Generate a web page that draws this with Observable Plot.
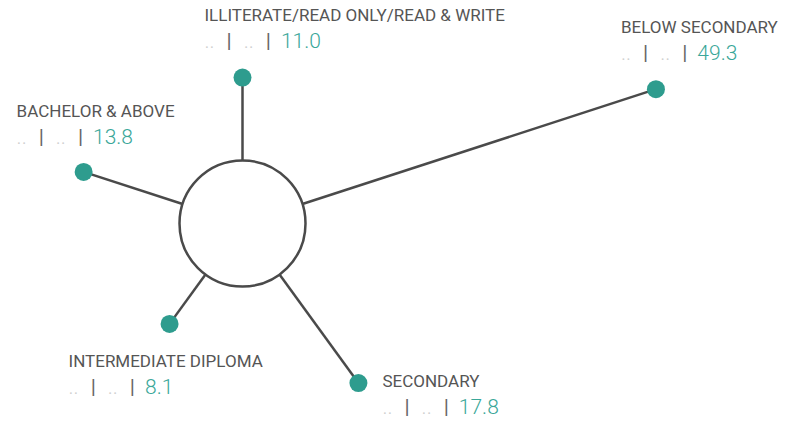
<!DOCTYPE html>
<html>
<head>
<meta charset="utf-8">
<script src="https://cdn.jsdelivr.net/npm/d3@7"></script>
<script src="https://cdn.jsdelivr.net/npm/@observablehq/plot@0.6"></script>
<style>
  html, body { margin: 0; padding: 0; background: #fff; }
  #chart { width: 798px; height: 421px; }
</style>
</head>
<body>
<div id="chart"></div>
<script>
// ---- Data ----
const categories = [
  "ILLITERATE/READ ONLY/READ & WRITE",
  "BELOW SECONDARY",
  "SECONDARY",
  "INTERMEDIATE DIPLOMA",
  "BACHELOR & ABOVE"
];
const values = [11.0, 49.3, 17.8, 8.1, 13.8];
const valueLabels = ["11.0", "49.3", "17.8", "8.1", "13.8"];
const placeholders = ["..", ".."];

// ---- Layout (pixels) ----
const W = 798, H = 421;
const cx = 242, cy = 223;     // hub centre
const pxPerUnit = 7.54;       // spoke length per value unit
const hubR = 63;              // hub radius (px)
const R0 = hubR / pxPerUnit;  // hub radius in value units
// label anchor offsets (px) from each dot: [dx, dy of first baseline]
const labelOffsets = [[-38, -57], [-35, -56], [24, 4], [-101, 43], [-67, -55]];
const lineGap = 27;

const teal = "#2e9c8e";
const tealText = "#3aa799";
const grey = "#4a4a4a";

const data = categories.map((c, i) => {
  const a = (i * 2 * Math.PI) / categories.length; // clockwise from top
  const v = values[i];
  return {
    category: c,
    value: v,
    label: valueLabels[i],
    line: placeholders.join(" | ") + " | " + valueLabels[i],
    x1: R0 * Math.sin(a), y1: R0 * Math.cos(a),
    x2: (R0 + v) * Math.sin(a), y2: (R0 + v) * Math.cos(a)
  };
});

const labelMarks = data.flatMap((d, i) => [
  Plot.text([d], {
    x: "x2", y: "y2", text: "category",
    dx: labelOffsets[i][0], dy: labelOffsets[i][1],
    textAnchor: "start", lineAnchor: "bottom",
    fontSize: 17, fill: "#555555", fontFamily: "Roboto, sans-serif"
  }),
  Plot.text([d], {
    x: "x2", y: "y2", text: "line",
    dx: labelOffsets[i][0], dy: labelOffsets[i][1] + lineGap,
    textAnchor: "start", lineAnchor: "bottom",
    fontSize: 21, fontWeight: 300, fill: tealText,
    fontFamily: "Roboto, sans-serif"
  })
]);

const chart = Plot.plot({
  width: W, height: H,
  margin: 0,
  x: { domain: [-cx / pxPerUnit, (W - cx) / pxPerUnit], axis: null },
  y: { domain: [(cy - H) / pxPerUnit, cy / pxPerUnit], axis: null },
  style: { background: "#fff", overflow: "visible" },
  marks: [
    Plot.link(data, { x1: "x1", y1: "y1", x2: "x2", y2: "y2", stroke: grey, strokeWidth: 2.5 }),
    Plot.dot([{ x: 0, y: 0 }], { x: "x", y: "y", r: hubR, fill: "#fff", stroke: grey, strokeWidth: 2.5 }),
    Plot.dot(data, { x: "x2", y: "y2", r: 9, fill: teal }),
    ...labelMarks
  ]
});

document.getElementById("chart").appendChild(chart);

// colour the parts of each value line separately
d3.select(chart).selectAll("text").each(function () {
  const t = d3.select(this);
  const s = t.text();
  if (s.indexOf(" | ") < 0) return;
  const parts = s.split(" | ");
  t.text(null);
  parts.forEach((p, j) => {
    if (j > 0) {
      t.append("tspan").attr("dx", 12).attr("fill", "#666666")
        .attr("font-weight", 400).text("|");
    }
    const isVal = j === parts.length - 1;
    t.append("tspan")
      .attr("dx", j > 0 ? (isVal ? 10 : 12) : 0)
      .attr("fill", isVal ? tealText : "#cfcfcf")
      .text(p);
  });
});
</script>
</body>
</html>
